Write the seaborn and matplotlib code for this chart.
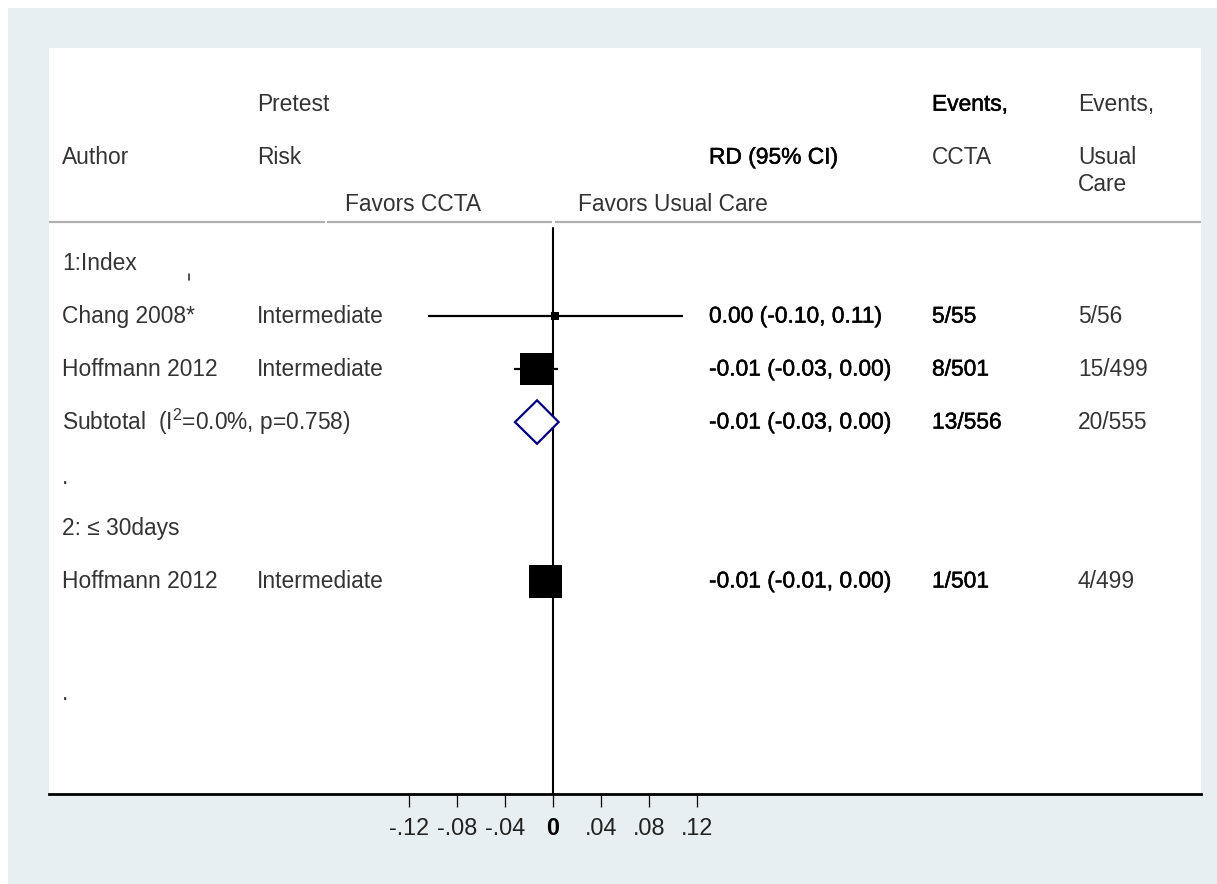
import numpy as np
import pandas as pd
import seaborn as sns
import matplotlib
matplotlib.use("Agg")
import matplotlib.pyplot as plt
from matplotlib import transforms
from matplotlib.patches import Rectangle
from matplotlib.lines import Line2D
import matplotlib.patheffects as pe

# ---- study-level data -------------------------------------------------------
authors = ["Chang 2008*", "Hoffmann 2012", "Hoffmann 2012"]
risk = ["Intermediate", "Intermediate", "Intermediate"]
study_rows = [1, 2, 6]
rd = [0.0016, -0.0141, -0.0060]
rd_lo = [-0.104, -0.0325, -0.0127]
rd_hi = [0.108, 0.0043, 0.0007]
weight = [5.9, 94.1, 100.0]
events_ccta = ["5/55", "8/501", "1/501"]
events_usual = ["5/56", "15/499", "4/499"]

# pooled estimate for the index-visit subgroup
sub_row = 3
sub_rd, sub_lo, sub_hi = -0.0133, -0.0317, 0.0047
sub_events_ccta, sub_events_usual = "13/556", "20/555"
sub_label = r"Subtotal  (I$^{2}$=0.0%, p=0.758)"

group_labels = ["1:Index", "2: \u2264 30days"]
group_rows = [0, 5]
spacer_rows = [4.05, 8.12]

xticks = [-0.12, -0.08, -0.04, 0, 0.04, 0.08, 0.12]
xtick_labels = ["-.12", "-.08", "-.04", "0", ".04", ".08", ".12"]

# ---- figure -----------------------------------------------------------------
W, H = 1217, 884
sns.set_theme(style="white")
plt.rcParams["font.family"] = ["Liberation Sans", "DejaVu Sans"]
plt.rcParams["mathtext.fontset"] = "custom"
plt.rcParams["mathtext.rm"] = "Liberation Sans"
plt.rcParams["mathtext.it"] = "Liberation Sans:italic"

fig = plt.figure(figsize=(W / 100, H / 100), dpi=100, facecolor="white")
bg = Rectangle((8 / W, 0), 1, 1 - 8 / H, transform=fig.transFigure,
               facecolor="#E8EFF2", edgecolor="none", zorder=-10)
fig.patches.append(bg)

ax = fig.add_axes([49 / W, 90 / H, 1152 / W, 746 / H])
ax.set_zorder(1)
ax.set_facecolor("white")
ax.set_xlim(-0.42, 0.54)
ax.set_ylim(10.02, -4.06)

FS = 16.4
TXT = "#333333"
heavy = [pe.withStroke(linewidth=0.35, foreground="black")]
tr = transforms.blended_transform_factory(fig.transFigure, ax.transData)


def put(px, row, s, heavy_txt=False, **kw):
    ax.text(px / W, row, s, transform=tr, fontsize=FS, va="center", ha="left",
            color="black" if heavy_txt else TXT,
            path_effects=heavy if heavy_txt else None, clip_on=False, **kw)


# column headings
put(257, -3, "Pretest")
put(932, -3, "Events,", heavy_txt=True)
put(1078, -3, "Events,")
put(62, -2, "Author")
put(257, -2, "Risk")
put(709, -2, "RD (95% CI)", heavy_txt=True)
put(932, -2, "CCTA")
put(1078, -2, "Usual")
put(1078, -1.48, "Care")
put(345, -1.1, "Favors CCTA")
put(578, -1.1, "Favors Usual Care")

# header rule with small breaks
for a, b in [(49, 325), (327, 552), (555, 1201)]:
    ax.plot([a / W, b / W], [-0.774, -0.774], transform=tr, color="#b0b0b0",
            lw=1.6, clip_on=False, solid_capstyle="butt")

# group headings and spacer dots
for lab, r in zip(group_labels, group_rows):
    put(62, r, lab)
for r in spacer_rows:
    put(62, r, ".")
mark = Line2D([189 / W, 189 / W], [1 - 274 / H, 1 - 280 / H], color="#333333", lw=1.2,
              transform=fig.transFigure, zorder=5)
fig.add_artist(mark)

# study rows
for i, r in enumerate(study_rows):
    put(62, r, authors[i])
    put(257, r, risk[i])
    put(709, r, f"{rd[i]:.2f} ({rd_lo[i]:.2f}, {rd_hi[i]:.2f})", heavy_txt=True)
    put(932, r, events_ccta[i], heavy_txt=True)
    put(1078, r, events_usual[i])

put(62, sub_row, sub_label)
put(709, sub_row, f"{sub_rd:.2f} ({sub_lo:.2f}, {sub_hi:.2f})", heavy_txt=True)
put(932, sub_row, sub_events_ccta, heavy_txt=True)
put(1078, sub_row, sub_events_usual)

# null line
ax.axvline(0, ymin=0, ymax=(794 - 228) / 746, color="black", lw=1.5, zorder=2)

# confidence intervals
ax.hlines(study_rows, rd_lo, rd_hi, color="black", lw=1.6, zorder=3)

# weighted boxes (area proportional to weight)
df = pd.DataFrame({"rd": rd, "row": study_rows, "weight": weight})
max_side = 33 * 0.72
sns.scatterplot(data=df, x="rd", y="row", size="weight", size_norm=(0, 100),
                sizes=(0, max_side ** 2), marker="s", color="black",
                linewidth=0, legend=False, ax=ax, zorder=4)

# pooled diamond
h = 0.41
ax.fill([sub_lo, sub_rd, sub_hi, sub_rd], [sub_row, sub_row - h, sub_row, sub_row + h],
        facecolor="white", edgecolor="#000080", lw=1.6, zorder=5, joinstyle="miter")

# axes styling
for side in ["top", "left", "right"]:
    ax.spines[side].set_visible(False)
ax.spines["bottom"].set_linewidth(2.0)
ax.spines["bottom"].set_color("black")
ax.set_yticks([])
ax.set_xticks(xticks)
ax.set_xticklabels(xtick_labels)
ax.tick_params(axis="x", direction="out", length=9.5, width=0.9, pad=7,
               labelsize=16.8, labelcolor="#222222", color="black", bottom=True)
for t in ax.get_xticklabels():
    if t.get_text() == "0":
        t.set_fontweight("bold")
        t.set_color("black")
ax.set_xlabel("")
ax.set_ylabel("")

fig.savefig("out.png", dpi=100, facecolor=fig.get_facecolor())
